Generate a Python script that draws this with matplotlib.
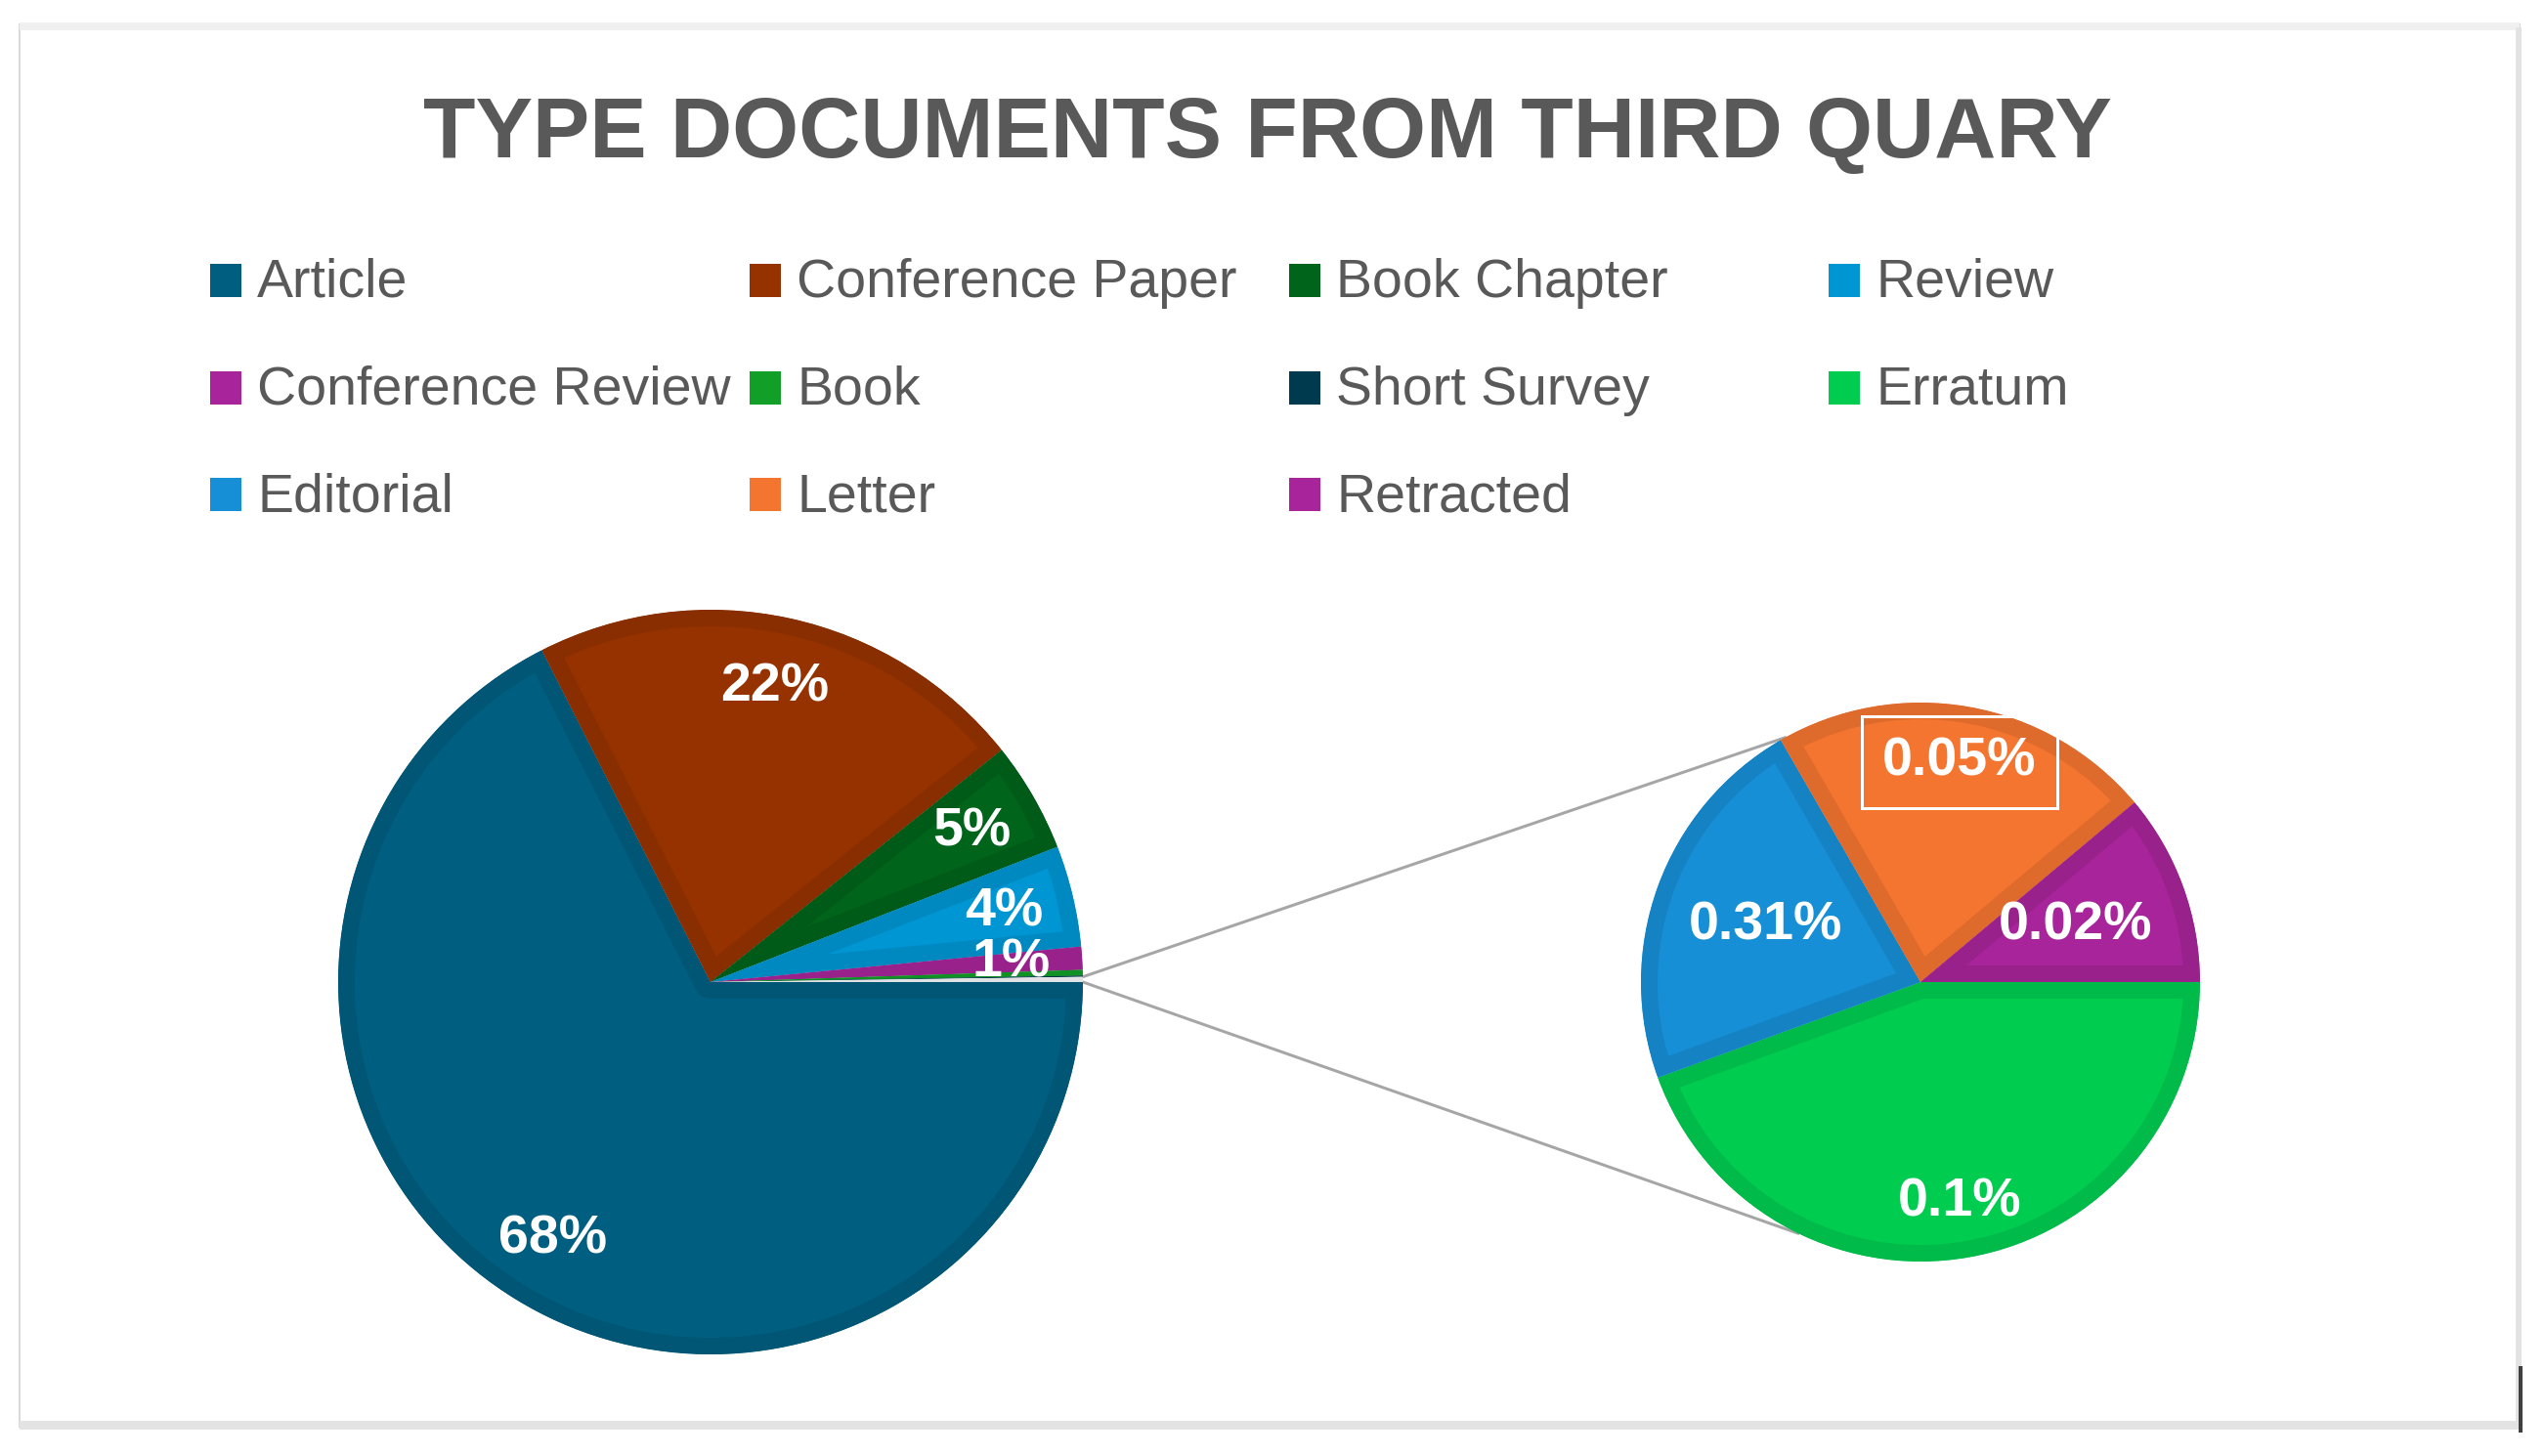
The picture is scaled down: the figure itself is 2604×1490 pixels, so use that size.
import matplotlib
matplotlib.use('Agg')

import numpy as np
import matplotlib.pyplot as plt
from matplotlib.patches import Rectangle
from matplotlib.colors import to_rgb

W, H = 2604, 1490

# legend order (row by row, 4 per row)
doc_types = ["Article", "Conference Paper", "Book Chapter", "Review",
             "Conference Review", "Book", "Short Survey", "Erratum",
             "Editorial", "Letter", "Retracted"]
doc_colors = ["#005f80", "#963200", "#00641a", "#0096d3",
              "#a8249a", "#129f28", "#003a4f", "#00cd50",
              "#168fd6", "#f47530", "#a8249a"]

# first pie, share in %
main_types = ["Article", "Conference Paper", "Book Chapter", "Review",
              "Conference Review", "Book", "Short Survey"]
main_share = [67.6, 21.8, 4.8, 4.4, 1.0, 0.25, 0.05]

# smallest types, pulled out into the second pie
other_types = ["Erratum", "Editorial", "Letter", "Retracted"]
other_share = [0.10, 0.05, 0.05, 0.025]
other_labels = ["0.1%", "0.31%", "0.05%", "0.02%"]

TITLE = "TYPE DOCUMENTS FROM THIRD QUARY"
TXT = "#595959"
FONT = ["Liberation Sans", "DejaVu Sans"]
PX = 72 / 100          # points per pixel at dpi 100


def Y(y):
    # pixel rows are measured from the top
    return H - y


def shade(wedges, colors, width_px=34, k=0.91):
    # darker band just inside every slice (edge clipped to the slice itself)
    for w, c in zip(wedges, colors):
        r, g, b = to_rgb(c)
        w.set_edgecolor((r * k, g * k, b * k))
        w.set_linewidth(width_px * PX)
        w.set_joinstyle("round")
        w.set_clip_on(True)
        w.set_clip_path(w)
        w.set_zorder(2)


color_of = dict(zip(doc_types, doc_colors))

fig = plt.figure(figsize=(W / 100, H / 100), dpi=100)
ax = fig.add_axes([0, 0, 1, 1])

# card
ax.add_patch(Rectangle((20, Y(1460)), 2558, 1435, facecolor="white",
                       edgecolor="#d9d9d9", linewidth=2 * PX, zorder=0))
ax.add_patch(Rectangle((20, Y(31)), 2558, 8, facecolor="#f0f0f0",
                       edgecolor="none", zorder=0.5))
ax.add_patch(Rectangle((20, Y(1463)), 2560, 9, facecolor="#e3e3e3",
                       edgecolor="none", zorder=0.5))
ax.add_patch(Rectangle((2574, Y(1463)), 6, 1435, facecolor="#e3e3e3",
                       edgecolor="none", zorder=0.5))
ax.add_patch(Rectangle((2577, Y(1466)), 4, 68, facecolor="#404040",
                       edgecolor="none", zorder=0.6))

# first pie
main_c = (727, Y(1005))
main_r = 381
sizes = main_share + [sum(other_share)]
cols = [color_of[t] for t in main_types] + ["#f6f8fa"]
wedges, _, autotexts = ax.pie(
    sizes, colors=cols, center=main_c, radius=main_r, startangle=0,
    counterclock=False, pctdistance=0.81,
    autopct=lambda p: f"{p:.0f}%" if p >= 0.5 else "",
    textprops=dict(color="white", fontsize=40, fontweight="bold",
                   family=FONT))
shade(wedges, cols)
for t in autotexts:
    t.set_zorder(5)

# second pie
sub_c = (1965, Y(1005))
sub_r = 286
sub_cols = [color_of[t] for t in other_types]
sub_wedges, _ = ax.pie(other_share, colors=sub_cols, center=sub_c,
                       radius=sub_r, startangle=0, counterclock=False)
shade(sub_wedges, sub_cols)

# labels sit on the slice bisector, at this fraction of the radius
sub_label_dist = [0.80, 0.59, 0.80, 0.59]
for w, lab, d in zip(sub_wedges, other_labels, sub_label_dist):
    a = np.radians((w.theta1 + w.theta2) / 2)
    x = sub_c[0] + d * sub_r * np.cos(a)
    y = sub_c[1] + d * sub_r * np.sin(a)
    box = None
    if lab == "0.05%":
        box = dict(boxstyle="square,pad=0.38", facecolor="none",
                   edgecolor="white", linewidth=3 * PX)
    ax.text(x, y, lab, color="white", fontsize=40, fontweight="bold",
            family=FONT, ha="center", va="center", bbox=box, zorder=5)

# connector lines from the "other" slice to the second pie
ow = wedges[-1]
for ang, sub_ang in ((ow.theta2, 119), (ow.theta1, -116)):
    x0 = main_c[0] + main_r * np.cos(np.radians(ang))
    y0 = main_c[1] + main_r * np.sin(np.radians(ang))
    x1 = sub_c[0] + sub_r * np.cos(np.radians(sub_ang))
    y1 = sub_c[1] + sub_r * np.sin(np.radians(sub_ang))
    ax.plot([x0, x1], [y0, y1], color="#a6a6a6", linewidth=3 * PX, zorder=1)

# title
ax.text(1297, Y(161), TITLE, ha="center", va="baseline", fontsize=63,
        fontweight="bold", color=TXT, family=FONT)

# legend, 4 columns
col_x = [215, 767, 1319, 1871]
row_base = [304, 414, 523]
for i, (name, c) in enumerate(zip(doc_types, doc_colors)):
    row, col = divmod(i, 4)
    x, yb = col_x[col], row_base[row]
    ax.add_patch(Rectangle((x, Y(yb)), 32, 34, facecolor=c,
                           edgecolor="none", zorder=3))
    ax.text(x + 48, Y(yb), name, ha="left", va="baseline", fontsize=40,
            color=TXT, family=FONT)

ax.set_aspect("auto")
ax.set_xlim(0, W)
ax.set_ylim(0, H)
ax.axis("off")

fig.savefig("out.png", dpi=100, facecolor="white")
